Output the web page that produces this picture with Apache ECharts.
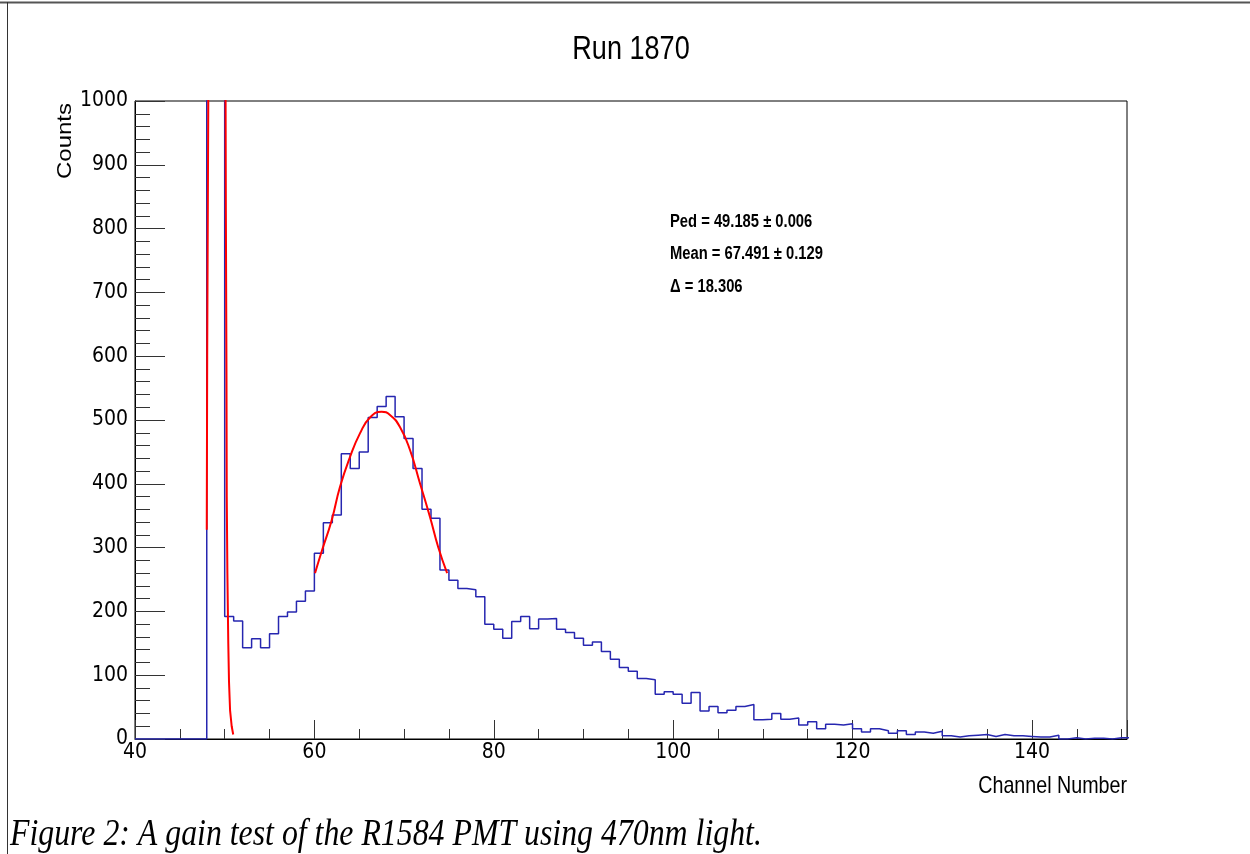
<!DOCTYPE html>
<html>
<head>
<meta charset="utf-8">
<script src="https://cdn.jsdelivr.net/npm/echarts@6/dist/echarts.min.js"></script>
<style>
  html, body { margin: 0; padding: 0; background: #fff; }
  #chart { width: 1250px; height: 854px; }
</style>
</head>
<body>
<div id="chart"></div>
<script>
// ---- Data ----
const titleText = 'Run 1870';
const xAxisTitle = 'Channel Number';
const yAxisTitle = 'Counts';
const captionText = 'Figure 2: A gain test of the R1584 PMT using 470nm light.';
const statLines = ['Ped = 49.185 \u00b1 0.006', 'Mean = 67.491 \u00b1 0.129', '\u0394 = 18.306'];

// Histogram: first bin low edge, bin width, counts per bin (bins 40..150)
const firstBinLow = 40;
const binWidth = 1;
const counts = [
  0, 0, 0, 0, 0, 0, 0, 0,          // 40-47
  2000, 3000,                      // 48-49 (off scale)
  192, 185, 143, 157, 143, 165, 192, 199, 216, 232,   // 50-59
  291, 339, 351, 447, 424, 450, 504, 521, 537, 505,   // 60-69
  471, 424, 360, 346, 265, 249, 236, 234, 223, 180,   // 70-79
  172, 158, 184, 192, 173, 188, 189, 172, 167, 158,   // 80-89
  147, 152, 137, 125, 112, 106, 95, 93, 70, 74,       // 90-99
  70, 56, 73, 44, 51, 41, 45, 51, 54, 30,             // 100-109
  31, 40, 31, 33, 22, 27, 16, 23, 22, 24,             // 110-119
  16, 11, 16, 13, 9, 13, 7, 11, 9, 12,                // 120-129
  5, 3, 5, 6, 7, 4, 7, 5, 5, 4,                       // 130-139
  3, 3, 6, 0, 2, 0, 1, 1, 0, 2,                       // 140-149
  2                                                   // 150
];

// Pedestal fit curve (two visible arms, clipped above 1000)
const pedFitX = [48.0, 48.05, 48.12, 48.17, 48.3, 50.05, 50.1, 50.13, 50.2, 50.23, 50.3, 50.4, 50.48, 50.6, 50.78, 50.95];
const pedFitY = [328, 600, 834, 1000, 1300, 1300, 1000, 830, 570, 380, 260, 150, 90, 45, 20, 7];

// Signal (photoelectron) fit curve
const sigFitX = [60.07, 60.81, 61.93, 62.85, 63.97, 65.08, 66.2, 67.5, 68.43, 69.54, 70.66, 71.77, 72.89, 73.8, 74.8];
const sigFitY = [260, 294, 343, 395, 442, 479, 504, 513, 508, 489, 453, 401, 348, 301, 260];

// Axis settings
const xMin = 40, xMax = 150.6, xInterval = 20;
const yMin = 0, yMax = 1000, yInterval = 100;

// ---- Build series data ----
const histData = counts.map((v, i) => [firstBinLow + i * binWidth, v]);
histData.push([firstBinLow + counts.length * binWidth, counts[counts.length - 1]]);
const pedData = pedFitX.map((x, i) => [x, pedFitY[i]]);
const sigData = sigFitX.map((x, i) => [x, sigFitY[i]]);

const chart = echarts.init(document.getElementById('chart'), null, { renderer: 'canvas' });
const font = '"Liberation Sans", Arial, Helvetica, sans-serif';
const narrow = '"Liberation Sans Narrow", "DejaVu Sans Condensed", "Liberation Sans", sans-serif';
const sx = 0.82; // horizontal squeeze seen in the reference

chart.setOption({
  animation: false,
  backgroundColor: '#ffffff',
  grid: {
    left: 135, top: 101, right: 123, bottom: 115,
    show: true, borderColor: '#000', borderWidth: 1, backgroundColor: 'transparent'
  },
  xAxis: {
    type: 'value',
    min: xMin, max: xMax, interval: xInterval,
    axisLine: { lineStyle: { color: '#000', width: 1 } },
    axisTick: { inside: true, length: 19, lineStyle: { color: '#333' } },
    minorTick: { show: true, splitNumber: 4, length: 10, lineStyle: { color: '#333' } },
    splitLine: { show: false },
    axisLabel: { showMaxLabel: false, margin: 3, fontFamily: narrow, fontSize: 21, color: '#000',
      formatter: v => String(v) }
  },
  yAxis: {
    type: 'value',
    min: yMin, max: yMax, interval: yInterval,
    axisLine: { show: true, lineStyle: { color: '#000', width: 1 } },
    axisTick: { inside: true, length: 30, lineStyle: { color: '#333' } },
    minorTick: { show: true, splitNumber: 5, length: 15, lineStyle: { color: '#333' } },
    splitLine: { show: false },
    axisLabel: { margin: 7, fontFamily: narrow, fontSize: 21, color: '#000',
      formatter: v => String(v) }
  },
  series: [
    {
      name: 'Histogram',
      type: 'line',
      step: 'end',
      data: histData,
      showSymbol: false,
      clip: true,
      lineStyle: { color: '#2626b0', width: 1.5 },
      z: 2
    },
    {
      name: 'Pedestal fit',
      type: 'line',
      data: pedData,
      showSymbol: false,
      clip: true,
      lineStyle: { color: '#ff0000', width: 2 },
      z: 3
    },
    {
      name: 'Signal fit',
      type: 'line',
      data: sigData,
      smooth: 0.5,
      showSymbol: false,
      clip: true,
      lineStyle: { color: '#ff0000', width: 2 },
      z: 3
    }
  ],
  graphic: [
    // page frame lines
    { type: 'line', shape: { x1: 0, y1: 2.5, x2: 1250, y2: 2.5 }, style: { stroke: '#555', lineWidth: 2 } },
    { type: 'line', shape: { x1: 7.5, y1: 2, x2: 7.5, y2: 854 }, style: { stroke: '#333', lineWidth: 1 } },
    // title
    { type: 'text', x: 631, y: 50, scaleX: sx,
      style: { text: titleText, font: '33px ' + font, fill: '#000', align: 'center', verticalAlign: 'middle' } },
    // axis titles
    { type: 'text', x: 66, y: 141, rotation: Math.PI / 2, scaleY: sx,
      style: { text: yAxisTitle, font: '24px ' + font, fill: '#000', align: 'center', verticalAlign: 'middle' } },
    { type: 'text', x: 1127, y: 786, scaleX: sx,
      style: { text: xAxisTitle, font: '24px ' + font, fill: '#000', align: 'right', verticalAlign: 'middle' } },
    // fit statistics
    { type: 'text', x: 670, y: 222, scaleX: sx,
      style: { text: statLines[0], font: 'bold 18px ' + font, fill: '#000', align: 'left', verticalAlign: 'middle' } },
    { type: 'text', x: 670, y: 254, scaleX: sx,
      style: { text: statLines[1], font: 'bold 18px ' + font, fill: '#000', align: 'left', verticalAlign: 'middle' } },
    { type: 'text', x: 670, y: 287, scaleX: sx,
      style: { text: statLines[2], font: 'bold 18px ' + font, fill: '#000', align: 'left', verticalAlign: 'middle' } },
    // caption
    { type: 'text', x: 10, y: 835, scaleX: 0.86,
      style: { text: captionText, font: 'italic 37px "Liberation Serif", "Times New Roman", serif', fill: '#000', align: 'left', verticalAlign: 'middle' } }
  ]
});
</script>
</body>
</html>
